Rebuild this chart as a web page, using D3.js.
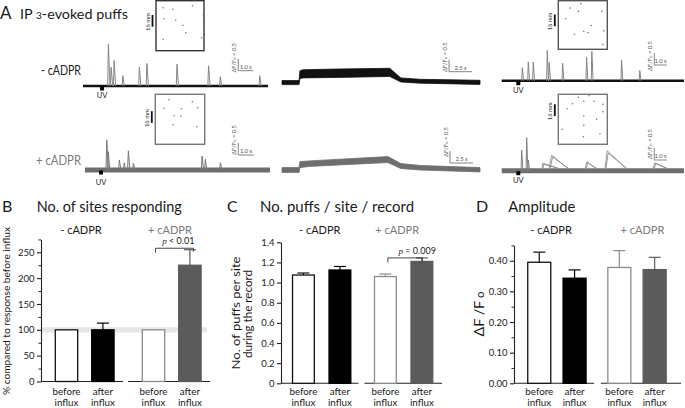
<!DOCTYPE html>
<html><head><meta charset="utf-8">
<script src="https://cdn.jsdelivr.net/npm/d3@7"></script>
<style>body{margin:0;background:#fff} svg{display:block;background:#fff}</style>
</head><body><svg id="c" width="685" height="408"></svg>
<script>
// ================= DATA =================
const groups = ["- cADPR", "+ cADPR"];
const barTopLabels = ["before", "after", "before", "after"];
const barBottomLabels = ["influx", "influx", "influx", "influx"];

const sitesValues = [100, 100, 100, 225];
const sitesErrors = [0, 13, 0, 30];
const sitesTicks = [0, 50, 100, 150, 200, 250];
const sitesMinorTicks = [25, 75, 125, 175, 225, 275];
const sitesBand = [95, 105];

const puffsValues = [1.075, 1.125, 1.06, 1.21];
const puffsErrors = [0.02, 0.035, 0.025, 0.035];
const puffsTicks = [0, 0.2, 0.4, 0.6, 0.8, 1.0, 1.2, 1.4];

const ampValues = [0.395, 0.343, 0.378, 0.371];
const ampErrors = [0.033, 0.027, 0.055, 0.04];
const ampTicks = [0, 0.1, 0.2, 0.3, 0.4];
const ampMinorTicks = [0.05, 0.15, 0.25, 0.35, 0.45];

// Panel A: puff events [time (s), ΔF/F0]
const puffsCtrl1 = [[1.69,1.74],[1.87,0.78],[2.07,1.06],[2.65,0.43],[3.75,0.78],[4.25,0.94],[6.25,0.91],[8.35,0.84],[9.13,0.38],[11.75,0.43]];
const puffsCtrl2 = [[1.65,0.54],[2.13,0.78],[2.53,0.78],[3.65,1.26],[3.81,0.76],[4.88,0.73],[6.8,0.97],[7.22,1.22],[9.6,0.86],[11.06,0.42]];
const puffsCadpr1 = [[1.40,1.25],[1.50,0.76],[2.21,0.42],[2.52,0.30],[2.79,0.80],[3.11,0.28],[7.53,0.58],[7.74,0.45],[8.71,0.30]];
const puffsCadpr2 = [[1.6,0.86],[2.0,1.38],[2.13,0.45]];
// slow events [onset, peak time, ΔF/F0, end]
const slowCadpr2 = [[3.2,3.3,0.31,4.66],[3.78,4.0,0.65,5.33],[6.66,6.82,0.37,7.62],[8.26,8.45,0.83,10.0],[12.1,12.27,0.33,13.3]];
const uvTimes = [1.27, 1.33, 1.03, 1.33];

// Panel A middle: influx plateau, band of overlapping traces
const plateauCtrlTime  = [0, 1.85, 1.95, 2.3, 6, 11.7, 12.9, 15, 21.5];
const plateauCtrlUpper = [0.09, 0.09, 0.50, 0.54, 0.57, 0.60, 0.20, 0.14, 0.10];
const plateauCtrlLower = [-0.08, -0.08, 0.18, 0.20, 0.22, 0.26, 0.03, -0.02, -0.07];
const plateauCadprTime  = [0, 1.85, 1.95, 3, 11.5, 12.9, 15, 21.5];
const plateauCadprUpper = [0.10, 0.10, 0.35, 0.38, 0.56, 0.27, 0.19, 0.10];
const plateauCadprLower = [-0.10, -0.10, 0.10, 0.15, 0.31, 0.06, 0.00, -0.08];

// Inset maps: puff site positions (fraction of field)
const sitesCtrl1 = [[0.15,0.14],[0.35,0.17],[0.76,0.10],[0.985,0.30],[0.17,0.36],[0.41,0.39],[0.56,0.49],[0.62,0.64],[0.15,0.77],[0.95,0.74]];
const sitesCadpr1 = [[0.28,0.11],[0.75,0.15],[0.18,0.28],[0.53,0.29],[0.86,0.27],[0.38,0.43],[0.52,0.44],[0.36,0.61],[0.84,0.65]];
const sitesCtrl2 = [[0.24,0.15],[0.46,0.06],[0.41,0.22],[0.89,0.22],[0.15,0.37],[0.67,0.51],[0.52,0.63],[0.61,0.66],[0.33,0.69],[0.93,0.62],[0.91,0.90]];
const sitesCadpr2 = [[0.41,0.06],[0.63,0.03],[0.29,0.19],[0.52,0.14],[0.73,0.14],[0.91,0.20],[0.18,0.29],[0.91,0.35],[0.52,0.43],[0.78,0.50],[0.52,0.62],[0.08,0.70],[0.85,0.79],[0.51,0.85]];

// ================= DRAWING =================
const FONT = "Lato, 'Open Sans', 'DejaVu Sans', sans-serif";
const svg = d3.select("#c").attr("font-family", FONT);
const barFill = ["#ffffff", "#000000", "#ffffff", "#5b5b5b"];
const barStroke = ["#111111", "#000000", "#8c8c8c", "#5b5b5b"];

function txt(x, y, s, o = {}) {
  const t = svg.append("text").attr("x", x).attr("y", y).text(s)
    .attr("font-size", o.size || 10).attr("fill", o.fill || "#1a1a1a")
    .attr("text-anchor", o.anchor || "start");
  if (o.width) t.attr("textLength", o.width).attr("lengthAdjust", "spacingAndGlyphs");
  return t;
}

// ---------- Panel A ----------
txt(0, 19, "A", {size: 17});
const tA = svg.append("text").attr("x", 20).attr("y", 18.5).attr("font-size", 14).attr("fill", "#1a1a1a")
  .attr("textLength", 108).attr("lengthAdjust", "spacingAndGlyphs");
tA.append("tspan").text("IP ");
tA.append("tspan").attr("font-size", 10).text("3");
tA.append("tspan").text("-evoked puffs");
txt(81, 75, "- cADPR", {size: 12.5, anchor: "end", width: 40});
txt(81, 165, "+ cADPR", {size: 12.5, anchor: "end", width: 45, fill: "#7a7a7a"});

function scaleBars(x, y, c) {
  const g = svg.append("g").attr("stroke", "#666").attr("stroke-width", 0.8).attr("fill", "none");
  const cx = c.sbX, cy = c.sbY;
  g.append("line").attr("x1", cx).attr("x2", cx).attr("y1", cy).attr("y2", cy - (y(0) - y(0.5)));
  g.append("line").attr("x1", cx).attr("x2", cx + (x(c.sbTime) - x(0))).attr("y1", cy).attr("y2", cy);
  const t = svg.append("text").attr("font-size", 5.8).attr("fill", "#555").attr("text-anchor", "middle")
    .attr("transform", `translate(${cx - 2.5},${cy - c.lblDy}) rotate(-90)`);
  t.append("tspan").text("ΔF/F");
  t.append("tspan").attr("font-size", 4.5).text("o");
  t.append("tspan").text(" = 0.5");
  txt(cx + (x(c.sbTime) - x(0)) / 2, cy - 2, c.sbTime.toFixed(1) + " s", {size: 5.8, anchor: "middle", fill: "#555"});
}

function puffTrace(c) {
  const x = d3.scaleLinear().domain([0, c.tmax]).range([c.x0, c.x1]);
  const y = d3.scaleLinear().domain([0, 1]).range([c.base, c.base - 24]);
  svg.append("line").attr("x1", x(0)).attr("x2", x(c.tmax)).attr("y1", y(0)).attr("y2", y(0))
    .attr("stroke", c.baseColor).attr("stroke-width", c.baseWidth);
  if (c.slow) {
    const sg = svg.append("g").attr("fill", "none").attr("stroke", "#8f8f8f").attr("stroke-width", 0.9);
    c.slow.forEach(d => {
      sg.append("path").attr("d", d3.line()([[x(d[0]), y(0.05)], [x(d[1]), y(d[2])], [x(d[3]), y(0.08)]]));
      sg.append("path").attr("d", d3.line()([[x(d[0] + 0.08), y(0.05)], [x(d[1] + 0.08), y(d[2] * 0.88)], [x(d[3] + 0.1), y(0.06)]]));
    });
  }
  const pg = svg.append("g").attr("fill", "none").attr("stroke", c.spikeColor).attr("stroke-width", 1);
  c.events.forEach(d => {
    pg.append("path").attr("d", d3.line()([[x(d[0] - 0.05), y(0)], [x(d[0]), y(d[1])], [x(d[0] + 0.1), y(0)]]));
  });
  svg.append("rect").attr("x", x(c.uv) - 2).attr("y", y(0) + 0.5).attr("width", 4).attr("height", 4).attr("fill", "#000");
  txt(x(c.uv), y(0) + c.uvDy, "UV", {size: 7.5, anchor: "middle"});
  scaleBars(x, y, c);
}

function plateauTrace(c) {
  const x = d3.scaleLinear().domain([0, 21.5]).range([c.x0, c.x1]);
  const y = d3.scaleLinear().domain([0, 1]).range([c.base, c.base - 24]);
  const pts = c.time.map((t, i) => ({t, hi: c.upper[i], lo: c.lower[i]}));
  svg.append("path").datum(pts).attr("fill", c.color).attr("stroke", c.color).attr("stroke-width", 0.8)
    .attr("d", d3.area().x(d => x(d.t)).y0(d => y(d.lo)).y1(d => y(d.hi)));
  scaleBars(x, y, c);
}

function inset(c) {
  const sx = d3.scaleLinear().domain([0, 1]).range([c.x, c.x + c.w]);
  const sy = d3.scaleLinear().domain([0, 1]).range([c.y, c.y + c.h]);
  svg.append("rect").attr("x", c.x).attr("y", c.y).attr("width", c.w).attr("height", c.h)
    .attr("fill", "#fff").attr("stroke", c.stroke).attr("stroke-width", 1.4);
  svg.append("g").selectAll("circle").data(c.sites).join("circle")
    .attr("cx", d => sx(d[0])).attr("cy", d => sy(d[1])).attr("r", 0.8).attr("fill", "#777");
  svg.append("line").attr("x1", c.x - 3.5).attr("x2", c.x - 3.5).attr("y1", c.barY).attr("y2", c.barY + 11.7)
    .attr("stroke", "#111").attr("stroke-width", 1.8);
  svg.append("text").attr("font-size", 5.8).attr("fill", "#333").attr("text-anchor", "middle")
    .attr("transform", `translate(${c.x - 6.5},${c.barY + 7}) rotate(-90)`).text("16 mm");
}

puffTrace({events: puffsCtrl1, tmax: 12.3, x0: 83, x1: 268, base: 86, baseColor: "#111", baseWidth: 2.6,
  spikeColor: "#858585", uv: uvTimes[0], uvDy: 11.5, sbX: 238.3, sbY: 70.7, sbTime: 1.0, lblDy: 13});
puffTrace({events: puffsCtrl2, tmax: 14.6, x0: 501.7, x1: 684, base: 80.7, baseColor: "#111", baseWidth: 2.6,
  spikeColor: "#858585", uv: uvTimes[1], uvDy: 12.5, sbX: 654.3, sbY: 65, sbTime: 1.0, lblDy: 9});
puffTrace({events: puffsCadpr1, tmax: 11.9, x0: 85, x1: 270, base: 170, baseColor: "#6e6e6e", baseWidth: 5,
  spikeColor: "#777", uv: uvTimes[2], uvDy: 15, sbX: 238.3, sbY: 155, sbTime: 1.0, lblDy: 15});
puffTrace({events: puffsCadpr2, slow: slowCadpr2, tmax: 14.6, x0: 501.7, x1: 684, base: 170.7, baseColor: "#6e6e6e", baseWidth: 5,
  spikeColor: "#808080", uv: uvTimes[3], uvDy: 12, sbX: 654.3, sbY: 160, sbTime: 1.0, lblDy: 16});
plateauTrace({time: plateauCtrlTime, upper: plateauCtrlUpper, lower: plateauCtrlLower, x0: 282, x1: 480, base: 82.7,
  color: "#111", sbX: 449, sbY: 71.7, sbTime: 2.5, lblDy: 14.5});
plateauTrace({time: plateauCadprTime, upper: plateauCadprUpper, lower: plateauCadprLower, x0: 282, x1: 480, base: 170,
  color: "#6e6e6e", sbX: 450, sbY: 163, sbTime: 2.5, lblDy: 21});

inset({sites: sitesCtrl1, x: 156, y: 0.7, w: 48, h: 50, stroke: "#333", barY: 15});
inset({sites: sitesCadpr1, x: 155.3, y: 94.3, w: 49.4, h: 50, stroke: "#777", barY: 111.2});
inset({sites: sitesCtrl2, x: 558.3, y: 0.7, w: 49, h: 48.6, stroke: "#555", barY: 14.5});
inset({sites: sitesCadpr2, x: 558.3, y: 94.3, w: 49, h: 50, stroke: "#777", barY: 104.3});

// ---------- Bar panels ----------
function barPanel(p) {
  const y = d3.scaleLinear().domain([0, p.max]).range([p.y0, p.yTop]);
  const outer = d3.scaleBand().domain(groups).range([p.x0, p.x1]).paddingInner(p.gap);
  const inners = p.align.map(a => d3.scaleBand().domain([0, 1]).range([0, outer.bandwidth()])
    .paddingInner(p.barPad).paddingOuter(p.outerPad).align(a));
  const bx = i => outer(groups[Math.floor(i / 2)]) + inners[Math.floor(i / 2)](i % 2);
  const bw = inners[0].bandwidth();
  const cx = i => bx(i) + bw / 2;

  txt(p.letterX, 211.5, p.letter, {size: 16});
  txt(p.titleX, 211.5, p.title, {size: 15, width: p.titleW});

  if (p.band) {
    svg.append("rect").attr("x", p.x0).attr("width", p.x1 - 3 - p.x0)
      .attr("y", y(p.band[1])).attr("height", y(p.band[0]) - y(p.band[1])).attr("fill", "#e6e6e6");
  }
  groups.forEach((g, gi) => txt(outer(g) + outer.bandwidth() / 2 + p.grpDx[gi], 233.8, g,
    {size: 11, anchor: "middle", fill: gi ? "#7a7a7a" : "#1a1a1a"}));
  groups.forEach(g => svg.append("line").attr("x1", outer(g)).attr("x2", outer(g) + outer.bandwidth())
    .attr("y1", y(0)).attr("y2", y(0)).attr("stroke", "#222").attr("stroke-width", 1.1));
  const ax = svg.append("g").attr("transform", `translate(${p.x0},0)`)
    .call(d3.axisLeft(y).tickValues(p.ticks).tickFormat(p.fmt).tickSize(4).tickSizeOuter(0).tickPadding(2.5));
  ax.attr("font-family", FONT).attr("font-size", 9.5);
  ax.selectAll("path,line").attr("stroke", "#222").attr("stroke-width", 1.1);
  ax.selectAll("text").attr("fill", "#222");
  if (p.minor) {
    const mx = svg.append("g").attr("transform", `translate(${p.x0},0)`)
      .call(d3.axisLeft(y).tickValues(p.minor).tickFormat("").tickSize(2.5).tickSizeOuter(0));
    mx.select(".domain").remove();
    mx.selectAll("line").attr("stroke", "#222").attr("stroke-width", 1);
  }
  p.ylabel.forEach(l => {
    const t = svg.append("text").attr("font-size", l.size).attr("fill", "#1a1a1a").attr("text-anchor", "middle")
      .attr("transform", `translate(${l.x},${l.y}) rotate(-90)`)
      .attr("textLength", l.w).attr("lengthAdjust", "spacingAndGlyphs");
    l.parts.forEach(pt => t.append("tspan").attr("font-size", pt[1] || null).text(pt[0]));
  });
  p.values.forEach((v, i) => {
    svg.append("rect").attr("x", bx(i)).attr("y", y(v)).attr("width", bw).attr("height", y(0) - y(v))
      .attr("fill", barFill[i]).attr("stroke", barStroke[i]).attr("stroke-width", 1.3);
    const e = p.errors[i];
    if (e > 0) {
      const col = barStroke[i];
      svg.append("line").attr("x1", cx(i)).attr("x2", cx(i)).attr("y1", y(v)).attr("y2", y(v + e))
        .attr("stroke", col).attr("stroke-width", 1.2);
      svg.append("line").attr("x1", cx(i) - 6).attr("x2", cx(i) + 6).attr("y1", y(v + e)).attr("y2", y(v + e))
        .attr("stroke", col).attr("stroke-width", 1.2);
    }
    txt(cx(i), 394.5, barTopLabels[i], {size: 9.8, anchor: "middle", fill: "#222"});
    txt(cx(i), 405.5, barBottomLabels[i], {size: 9.8, anchor: "middle", fill: "#222"});
  });
  if (p.sig) {
    const by = y(p.values[3] + p.errors[3]) - p.sig.gap;
    const xl = cx(2) + p.sig.dl, xr = cx(3) + p.sig.dr;
    svg.append("path").attr("fill", "none").attr("stroke", "#333").attr("stroke-width", 0.9)
      .attr("d", d3.line()([[xl, by + 4.5], [xl, by], [xr, by], [xr, by + 3.5]]));
    const t = svg.append("text").attr("x", xr + p.sig.tdx).attr("y", by - 3.8).attr("text-anchor", "end")
      .attr("font-size", 9).attr("fill", "#222");
    t.append("tspan").attr("font-family", "'Liberation Serif', serif").attr("font-style", "italic").text("p");
    t.append("tspan").text(p.sig.text);
  }
}

barPanel({letter: "B", letterX: 2, title: "No. of sites responding", titleX: 36.7, titleW: 145,
  x0: 41, x1: 210, y0: 381.5, yTop: 239.4, max: 275, gap: 0.0575, barPad: 0.385, outerPad: 0.319, align: [0.616, 0.616],
  grpDx: [-1, 1], ticks: sitesTicks, minor: sitesMinorTicks, fmt: d3.format("d"), band: sitesBand,
  values: sitesValues, errors: sitesErrors,
  ylabel: [{x: 10, y: 311, size: 10, w: 168, parts: [["% compared to response before influx"]]}],
  sig: {gap: 1.5, dl: 2, dr: 3.5, tdx: 1, text: " < 0.01"}});

barPanel({letter: "C", letterX: 227, title: "No. puffs / site / record", titleX: 260, titleW: 154,
  x0: 281, x1: 442, y0: 383.3, yTop: 242.3, max: 1.4, gap: 0.0719, barPad: 0.403, outerPad: 0.263, align: [0.6, 0.52],
  grpDx: [0, -6], ticks: puffsTicks, fmt: d => d === 0 ? "0" : d3.format(".1f")(d),
  values: puffsValues, errors: puffsErrors,
  ylabel: [{x: 240, y: 313, size: 12, w: 113, parts: [["No. of puffs per site"]]},
           {x: 251.5, y: 314, size: 12, w: 88, parts: [["during the record"]]}],
  sig: {gap: 0, dl: 2.5, dr: 0.5, tdx: 13.5, text: " = 0.009"}});

barPanel({letter: "D", letterX: 476, title: "Amplitude", titleX: 508.3, titleW: 67,
  x0: 514, x1: 681, y0: 383.3, yTop: 245.4, max: 0.45, gap: 0.0771, barPad: 0.348, outerPad: 0.309, align: [0.63, 0.32],
  grpDx: [-3, 1.5], ticks: ampTicks, minor: ampMinorTicks, fmt: d3.format(".2f"),
  values: ampValues, errors: ampErrors,
  ylabel: [{x: 484, y: 314, size: 14, w: 45, parts: [["ΔF /F"], [" o", 11]]}]});
</script>
</body></html>
